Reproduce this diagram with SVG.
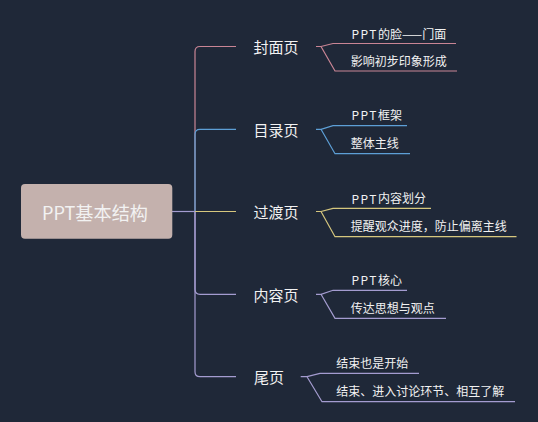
<svg xmlns="http://www.w3.org/2000/svg" width="538" height="422" viewBox="0 0 538 422">
<style>
text{font-family:"Noto Sans CJK SC","Microsoft YaHei","Liberation Sans",sans-serif;fill:#f2f2f2;dominant-baseline:central}
.lbl{font-size:15px;text-anchor:middle}
.sub{font-size:12px}
.ln{fill:none;stroke-width:1.2}
.pk{stroke:#c98595}.bl{stroke:#5d9fd6}.ye{stroke:#d6c77e}.lv{stroke:#a49cd0}
</style>
<rect width="538" height="422" fill="#1f2838"/>
<g id="connectors">
<path class="ln lv" d="M172 211.5H195"/>
<path class="ln pk" d="M195 211.5V51.5Q195 46.5 200 46.5H236"/>
<path class="ln bl" d="M195 211.5V134.3Q195 129.3 200 129.3H236"/>
<path class="ln lv" d="M195 211.5V289.3Q195 294.3 200 294.3H236"/>
<path class="ln lv" d="M195 211.5V371.7Q195 376.7 200 376.7H236"/>
<path class="ln ye" d="M195 211.5H236"/>
<path class="ln pk" d="M316 46.5H321L333 43.5H456M321 46.5L335 71H457"/>
<path class="ln bl" d="M316 129.3H321L333 125.7H407M321 129.3L335 153.7H410"/>
<path class="ln ye" d="M316 211.5H321L333 208.3H431M321 211.5L335 236.7H516.5"/>
<path class="ln lv" d="M316 294.3H321L333 290.3H407M321 294.3L335 318.3H446"/>
<path class="ln lv" d="M300.7 376.7H307L320 373.3H419M307 376.7L322 401.7H515"/>
</g>
<g id="root">
<rect x="21" y="184" width="151.3" height="54.7" rx="4" fill="#c4b1ad"/>
<text x="42" y="211.5" font-size="18" textLength="106" lengthAdjust="spacingAndGlyphs">PPT基本结构</text>
</g>
<g id="n-cover">
<text class="lbl" x="276" y="46.5">封面页</text>
<text class="sub" x="351.5" y="33"><tspan letter-spacing="1.5">PPT</tspan>的脸——门面</text>
<text class="sub" x="350.7" y="60.7">影响初步印象形成</text>
</g>
<g id="n-toc">
<text class="lbl" x="276" y="129.3">目录页</text>
<text class="sub" x="351.5" y="114.3"><tspan letter-spacing="1.5">PPT</tspan>框架</text>
<text class="sub" x="350.7" y="142.7">整体主线</text>
</g>
<g id="n-transition">
<text class="lbl" x="276" y="211.5">过渡页</text>
<text class="sub" x="351.5" y="197.7"><tspan letter-spacing="1.5">PPT</tspan>内容划分</text>
<text class="sub" x="350.7" y="225.7">提醒观众进度，防止偏离主线</text>
</g>
<g id="n-content">
<text class="lbl" x="276" y="294.3">内容页</text>
<text class="sub" x="351.5" y="279"><tspan letter-spacing="1.5">PPT</tspan>核心</text>
<text class="sub" x="350.7" y="307.3">传达思想与观点</text>
</g>
<g id="n-end">
<text class="lbl" x="269" y="376.7">尾页</text>
<text class="sub" x="336.3" y="362.3">结束也是开始</text>
<text class="sub" x="336.3" y="390">结束、进入讨论环节、相互了解</text>
</g>
</svg>
